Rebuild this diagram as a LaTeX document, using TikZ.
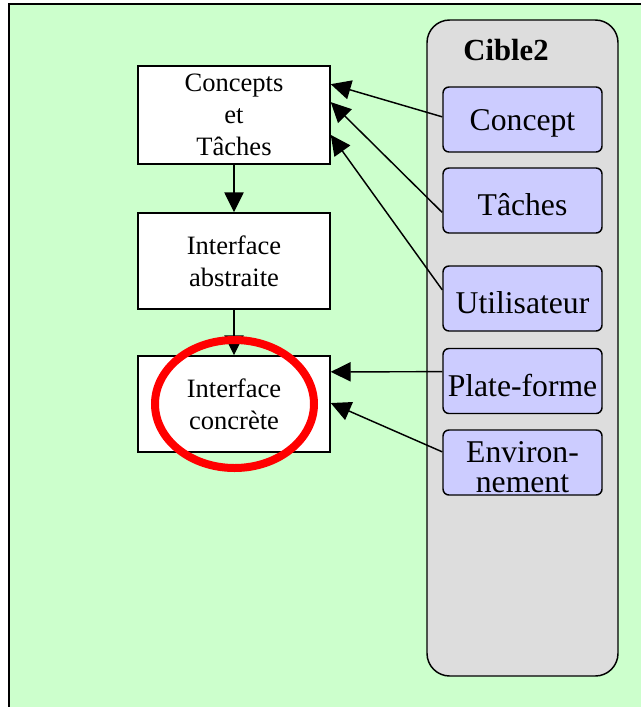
\documentclass[tikz,border=0pt]{standalone}
\usepackage{fontspec}
\setmainfont{Liberation Serif}
\usetikzlibrary{arrows.meta,calc}

\definecolor{bggreen}{HTML}{CCFFCC}
\definecolor{panelgray}{HTML}{DDDDDD}
\definecolor{itemblue}{HTML}{CCCCFF}

\tikzset{
  stage/.style={draw=black, line width=1.1pt, fill=white, rectangle,
    minimum width=144pt, align=center, inner sep=0pt,
    font=\fontsize{19.9}{24}\selectfont},
  item/.style={draw=black, line width=1.1pt, fill=itemblue, rounded corners=4.5pt,
    minimum width=119.25pt, minimum height=48.75pt, inner sep=0pt,
    label={[itemtext]center:#1}},
  itemtext/.style={align=center, inner sep=0pt, yshift=-3.2pt,
    font=\fontsize{23.75}{22.5}\selectfont},
  panel/.style={draw=black, line width=1.1pt, fill=panelgray, rounded corners=17pt,
    minimum width=143.25pt, minimum height=492pt, inner sep=0pt},
  link/.style={line width=1.1pt, -{Triangle[length=15pt,width=14.5pt]}},
  ringmark/.style={draw=red, line width=6pt}
}

\begin{document}
\begin{tikzpicture}[x=0.75pt,y=-0.75pt]
  \useasboundingbox (0,0) rectangle (641,707);

  % background frame (open on the right and at the bottom)
  \fill[bggreen] (9,4) rectangle (660,720);
  \draw[line width=1.5pt] (9,720) -- (9,4) -- (660,4);

  % target panel
  \node[panel] (cible) at (522.5,348) {};
  \node[font=\bfseries\fontsize{23}{27}\selectfont] (title) at (506,50) {Cible2};

  \node[item={Concept}]          (concept) at (522.5,119.5) {};
  \node[item={Tâches}]           (taches)  at (522.5,200.5) {};
  \node[item={Utilisateur}]      (user)    at (522.5,298.5) {};
  \node[item={Plate-forme}]      (platf)   at (522.5,381)   {};
  \node[item={Environ-\\nement}] (envir)   at (522.5,462.5) {};

  % development stages
  \node[stage, minimum height=73.5pt] (cet) at (234,115) {Concepts\\et\\Tâches};
  \node[stage, minimum height=72pt]   (ia)  at (234,261) {Interface\\abstraite};
  \node[stage, minimum height=72pt]   (ic)  at (234,404) {Interface\\concrète};

  % stage transitions
  \draw[link] (cet.south) -- (ia.north);
  \draw[link] (ia.south) -- (ic.north);

  % context links
  \draw[link] ($(concept.north west)!0.46!(concept.south west)$) -- ($(cet.north east)!0.19!(cet.south east)$);
  \draw[link] ($(taches.north west)!0.68!(taches.south west)$) -- ($(cet.north east)!0.37!(cet.south east)$);
  \draw[link] ($(user.north west)!0.37!(user.south west)$) -- ($(cet.north east)!0.70!(cet.south east)$);
  \draw[link] ($(platf.north west)!0.36!(platf.south west)$) -- ($(ic.north east)!0.17!(ic.south east)$);
  \draw[link] ($(envir.north west)!0.34!(envir.south west)$) -- ($(ic.north east)!0.49!(ic.south east)$);

  % highlight
  \draw[ringmark] (234.5,404) ellipse [x radius=79.5, y radius=64];
\end{tikzpicture}
\end{document}
